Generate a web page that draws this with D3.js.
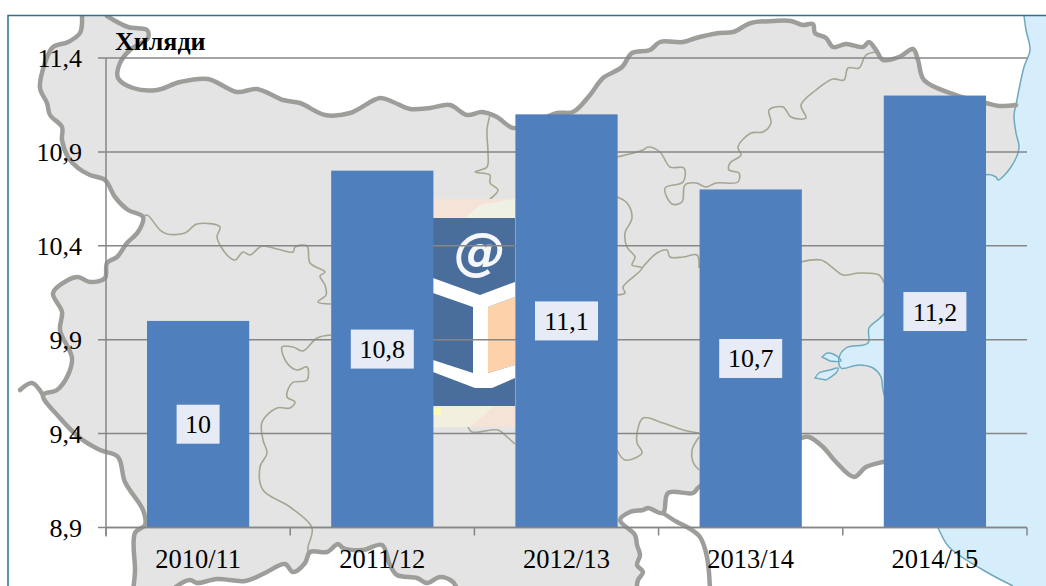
<!DOCTYPE html>
<html><head><meta charset="utf-8">
<script src="https://cdn.jsdelivr.net/npm/d3@7"></script>
<style>html,body{margin:0;padding:0;background:#fff;overflow:hidden}svg{display:block}text{font-family:"Liberation Serif","Times New Roman",serif;fill:#000}</style>
</head><body><svg id="c" width="1046" height="586"></svg>
<script>
// chart data
const categories = ["2010/11","2011/12","2012/13","2013/14","2014/15"];
const values = [10, 10.8, 11.1, 10.7, 11.2];
const valueLabels = ["10","10,8","11,1","10,7","11,2"];
const yTicks = [8.9, 9.4, 9.9, 10.4, 10.9, 11.4];
const yTickLabels = ["8,9","9,4","9,9","10,4","10,9","11,4"];
const yUnit = "Хиляди";

// traced decorative map background
const northBorder = [[107,16],[128,27],[147,30],[148,38],[130,50],[120,63],[118,78],[133,88],[157,90],[180,82],[208,79],[237,92],[257,89],[283,100],[300,103],[325,115],[350,113],[380,98],[393,102],[410,109],[430,108],[450,105],[467,115],[482,112],[497,117],[513,128],[535,122],[557,113],[573,112],[590,95],[603,78],[622,67],[632,53],[650,50],[660,42],[683,42],[696,38],[719,33],[733,32],[751,23],[774,21],[791,21],[803,25],[813,24],[815,33],[826,38],[833,47],[846,44],[863,47],[869,42],[876,50],[883,60],[899,57],[913,49],[918,60],[924,80],[956,95],[986,103],[999,106],[1016,105]];
const coastTop = [[1024,16],[1026,30],[1030,50],[1024,67],[1016,105]];
const coast = [[1016,105],[1014,115],[1016,133],[1019,148],[1011,167],[998,180],[996,177],[985,175],[930,240],[883,315],[869,328],[868,343],[846,348],[839,358],[841,368],[859,365],[873,368],[881,377],[883,390],[895,430],[905,458]];
const coastSouth = [[905,458],[938,528],[949,547],[983,570],[1013,586]];
const southBorder = [[905,458],[883,462],[866,467],[854,477],[836,462],[823,447],[809,437],[801,438],[750,465],[699,487],[693,493],[668,493],[663,513],[648,508],[643,510],[630,512],[620,520],[635,535],[637,545],[640,555],[637,565],[643,572],[638,580],[630,610],[470,610],[453,582],[440,577],[427,583],[417,578],[397,575],[390,565],[382,545],[363,550],[343,548],[338,544],[327,552],[310,552],[305,563],[293,572],[285,564],[263,574],[245,581],[217,579],[197,583],[190,580],[177,586],[155,610],[135,610],[135,570],[135,533],[145,525],[143,510],[125,482],[118,457],[100,450],[80,438],[60,418],[43,395],[57,390],[68,375],[72,358],[60,330],[62,312],[53,293],[68,280],[78,277],[90,282],[105,278],[107,263],[117,257],[127,243],[138,232],[143,217],[128,210],[115,197],[105,180],[90,175],[78,168],[68,157],[62,140],[62,127],[50,115],[47,103],[40,88],[45,63],[53,47],[68,42],[80,33],[82,16]];
const thickExtras = [
  [[43,395],[32,383],[20,390]],
  [[663,513],[677,522],[687,527],[700,537],[707,557],[710,590]]
];
const thinLines = [
  [[143,217],[147,215],[160,230],[167,234],[185,233],[197,224],[220,227],[217,237],[227,255],[235,260],[243,252],[250,255],[262,246],[277,249],[293,252],[295,247],[307,246],[310,263],[325,272],[320,276],[325,285],[326,295],[318,302],[331,304]],
  [[331,335],[317,338],[303,351],[293,347],[282,347],[287,363],[297,370],[307,367],[307,380],[292,383],[287,397],[295,402],[290,408],[277,408],[262,422],[263,440],[267,453],[260,467],[263,490],[290,507],[312,528],[308,547],[308,553]],
  [[490,115],[487,130],[488,153],[487,167],[475,172],[490,175],[490,183],[498,190],[490,199]],
  [[617,157],[643,150],[648,147],[660,152],[670,167],[684,168],[683,182],[665,188],[672,204],[682,202],[685,185],[696,183],[706,187],[716,183],[738,182],[739,173],[729,170],[730,163],[741,155],[738,147],[751,133],[763,132],[771,123],[769,110],[783,107],[791,117],[806,118],[801,105],[816,90],[833,79],[844,80],[848,68],[859,68],[866,55],[876,52]],
  [[617,197],[627,203],[632,218],[625,233],[627,247],[635,257],[632,265],[642,268],[623,287],[625,293],[617,295]],
  [[642,268],[657,253],[667,250],[670,257],[683,257],[697,255],[699,268]],
  [[801,262],[821,260],[833,268],[843,275],[859,273],[879,275],[884,283]],
  [[699,433],[683,430],[663,423],[643,418],[637,433],[637,443],[642,453],[625,460],[617,450]],
  [[699,437],[692,450],[693,462],[699,470]],
  [[468,427],[472,432],[498,430],[506,436],[515,444]]
];
const lakes = [
  [[815,378],[819,373],[830,370],[838,368],[836,373],[826,380]],
  [[822,357],[828,353],[838,357],[841,361],[830,361]]
];
const logoShapes = [
  {fill:"#f6e3d8", pts:[[433,199],[515,199],[515,218],[433,218]]},
  {fill:"#eff1e4", pts:[[480,205],[515,199],[515,218],[465,218]]},
  {fill:"#f2efdf", pts:[[433,406],[515,406],[515,427],[433,427]]},
  {fill:"#f5e3d8", pts:[[470,427],[495,406],[515,406],[515,427]]},
  {fill:"#fdfbb8", pts:[[433,408],[441,408],[441,415],[433,415]]},
  {fill:"#4a6e9b", pts:[[433,218],[515,218],[515,406],[433,406]]},
  {fill:"#fdd2ab", pts:[[488,307],[515,297],[515,365],[488,373]]},
  {fill:"#ffffff", pts:[[433,278],[480,295],[515,282],[515,297],[488,307],[488,373],[515,365],[515,378],[492,388],[475,388],[433,372],[433,360],[473,373],[473,307],[433,293]]}
];

const svg = d3.select("#c");
const x = d3.scaleBand().domain(categories).range([106,1027]).paddingInner(0.445).paddingOuter(0.2225);
const y = d3.scaleLinear().domain([8.9,11.4]).range([527.5,58]);
const curved = d3.line().curve(d3.curveCatmullRom.alpha(0.5));
const straight = d3.line();

svg.append("defs").append("clipPath").attr("id","frame").append("rect").attr("x",9).attr("y",16).attr("width",1100).attr("height",600);
const map = svg.append("g").attr("clip-path","url(#frame)");
map.append("path").attr("d",curved(northBorder.concat(coast.slice(1),southBorder.slice(1)))+"Z").attr("fill","#e4e4e4");
map.append("path").attr("d",curved(coastTop.concat(coast.slice(1),coastSouth.slice(1)))+"L1050,590L1050,16Z").attr("fill","#d6edfc");
map.selectAll(".lake").data(lakes).join("path").attr("d",d=>curved(d)+"Z").attr("fill","#d6edfc").attr("stroke","#6fa9bd").attr("stroke-width",1.4);
map.selectAll(".coast").data([coastTop,coast,coastSouth]).join("path").attr("d",curved).attr("fill","none").attr("stroke","#6fa9bd").attr("stroke-width",1.5);
map.selectAll(".thin").data(thinLines).join("path").attr("d",curved).attr("fill","none").attr("stroke","#a5a692").attr("stroke-width",1.6).attr("stroke-linejoin","round");
map.selectAll(".thick").data([northBorder,southBorder,...thickExtras]).join("path").attr("d",curved).attr("fill","none").attr("stroke","#9d9e9a").attr("stroke-width",4.5).attr("stroke-linejoin","round").attr("stroke-linecap","round");

// logo
const logo = svg.append("g");
logo.selectAll("path").data(logoShapes).join("path").attr("d",d=>straight(d.pts)+"Z").attr("fill",d=>d.fill);
logo.append("text").attr("x",480).attr("y",269).attr("text-anchor","middle").attr("font-size",52).attr("font-style","italic").attr("font-weight","bold").style("font-family","'DejaVu Sans'").style("fill","#f4f6fa").text("@");

// frame
svg.append("rect").attr("x",8).attr("y",15.5).attr("width",1100).attr("height",600).attr("fill","none").attr("stroke","#2f6f88").attr("stroke-width",1.5);

// grid
const axisColor = "#868686";
svg.append("g").selectAll("line").data(yTicks).join("line")
  .attr("x1",98).attr("x2",1027).attr("y1",d=>y(d)).attr("y2",d=>y(d))
  .attr("stroke",axisColor).attr("stroke-width",1.5);

// y axis
const yAxis = svg.append("g").attr("transform","translate(106,0)")
  .call(d3.axisLeft(y).tickValues(yTicks).tickSize(8).tickPadding(16).tickFormat((d,i)=>yTickLabels[i]));
yAxis.selectAll(".tick line").remove();
yAxis.select(".domain").attr("d",`M0,${y(11.4)}V${y(8.9)+9}`).attr("stroke",axisColor).attr("stroke-width",1.5).attr("fill","none");
yAxis.selectAll("text").attr("font-size",26).attr("dy",8.5).style("font-family","'Liberation Serif'");

// bars
svg.append("g").selectAll("rect").data(values).join("rect")
  .attr("x",(d,i)=>x(categories[i])).attr("width",x.bandwidth())
  .attr("y",d=>y(d)).attr("height",d=>y(8.9)-y(d)).attr("fill","#4f7fbc");

// x axis
svg.append("g").selectAll("line").data(d3.range(categories.length+1)).join("line")
  .attr("x1",i=>106+i*x.step()).attr("x2",i=>106+i*x.step()).attr("y1",y(8.9)).attr("y2",y(8.9)+8)
  .attr("stroke",axisColor).attr("stroke-width",1.5);
svg.append("line").attr("x1",106).attr("x2",1027).attr("y1",y(8.9)).attr("y2",y(8.9)).attr("stroke",axisColor).attr("stroke-width",1.5);
svg.append("g").selectAll("text").data(categories).join("text")
  .attr("x",d=>x(d)+x.bandwidth()/2).attr("y",568).attr("text-anchor","middle").attr("font-size",26.5).text(d=>d);

// value labels
const lab = svg.append("g").selectAll("g").data(values).join("g")
  .attr("transform",(d,i)=>`translate(${x(categories[i])+x.bandwidth()/2},${(y(d)+y(8.9))/2})`);
lab.append("rect").attr("x",(d,i)=>i===0?-21.5:-31.5).attr("y",-19.5).attr("width",(d,i)=>i===0?43:63).attr("height",39).attr("fill","#e6ebf5");
lab.append("text").attr("text-anchor","middle").attr("y",9).attr("font-size",26).text((d,i)=>valueLabels[i]);

// unit
svg.append("text").attr("x",115).attr("y",50).attr("font-size",26).attr("font-weight","bold").text(yUnit);
</script></body></html>
